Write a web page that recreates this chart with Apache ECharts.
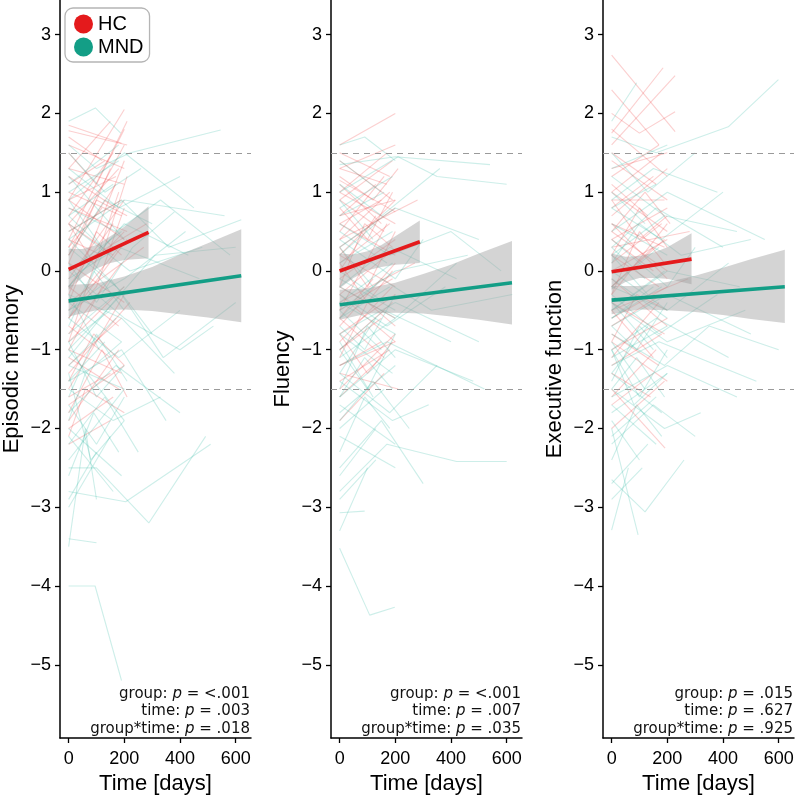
<!DOCTYPE html>
<html>
<head>
<meta charset="utf-8">
<script src="https://cdn.jsdelivr.net/npm/echarts@6/dist/echarts.min.js"></script>
<style>html,body{margin:0;padding:0;background:#fff}#c{width:795px;height:795px}</style>
</head>
<body>
<div id="c"></div>
<script>
// ---- axis ticks ----
const xTicks = [0, 200, 400, 600];
const yTicks = [-5, -4, -3, -2, -1, 0, 1, 2, 3];
const groups = ['HC', 'MND'];
const panelTitles = ['Episodic memory', 'Fluency', 'Executive function'];
const pGroup = ['<.001', '<.001', '.015'];
const pTime = ['.003', '.007', '.627'];
const pInter = ['.018', '.035', '.925'];

// ---- individual trajectories: [day, value, day, value, ...] ----
const epHC = [
[0,1.85,190,1.62],[0,1.78,210,1.60],[0,1.3,150,1.9],[0,0.9,200,2.05],[0,0.6,180,1.3],
[0,0.2,170,1.1],[0,-0.1,200,0.9],[0,0.4,120,0.2,210,1.2],[0,1.0,190,0.7],[0,0.7,160,1.5],
[0,-0.5,180,0.3],[0,-0.9,200,-0.2],[0,-1.2,190,-0.6],[0,-1.6,150,-1.3],[0,-2.1,60,-1.5,200,-1.8],
[0,-1.9,180,-1.0],[0,-0.3,100,0.5,190,0.2],[0,0.1,200,-0.4],[0,1.5,100,1.1,200,1.8],[0,1.2,170,0.8],
[0,-0.7,150,-1.1],[0,-1.4,90,-0.8,200,-1.2],[0,0.3,200,1.6],[0,-0.2,160,0.6],[0,0.8,210,0.5],
[0,-1.0,120,-0.2],[0,0.5,190,0.9],[0,-0.6,210,0.4],[0,1.1,130,1.4],[0,-1.7,200,-1.2],
[0,0.0,280,0.6],[0,-0.4,270,0.3],[0,0.9,170,1.2],[0,-1.1,180,-1.5],[0,0.2,100,0.9,210,0.7],
[0,-2.0,160,-1.6],[0,1.6,200,1.3],[0,-0.8,190,0.1],[0,0.6,90,0.1,200,0.5],[0,-1.3,220,-0.4],
[0,-0.9,180,1.0],[0,-0.4,200,1.4],[0,0.1,150,1.3],[0,-1.5,200,-0.3],[0,-1.8,120,-1.0,210,-1.6],
[0,0.4,210,1.9],[0,1.7,120,1.4],[0,-0.6,100,-0.2,200,0.8],[0,0.9,200,0.4],[0,-2.2,150,-1.9],
[0,-1.0,190,-1.3],[0,0.6,160,0.2],[0,1.3,200,1.1],[0,-0.2,180,-0.7],[0,0.3,120,0.8]
];
const epMND = [
[0,-4.0,95,-4.0,190,-5.2],[0,-3.4,100,-3.45],[0,-3.5,60,-2.0,100,-2.9],[0,-2.5,100,-2.5,288,-3.2,492,-2.1],
[0,-2.8,205,-2.93,510,-2.2],[0,-2.6,90,-1.8,180,-2.3],[0,-2.2,130,-1.6,250,-2.3],[0,1.9,96,2.07,187,1.75],
[0,1.6,100,1.3,222,1.5,546,1.79],[0,1.3,180,0.8,400,1.2],[0,0.9,200,1.5,450,0.8],[0,0.5,190,0.9,360,0.3,620,0.65],
[0,-0.2,200,0.6,430,0.2],[0,-0.6,180,-1.1,400,-0.5],[0,-1.0,190,-0.3,340,-1.1,600,-0.4],[0,-1.5,160,-1.9,330,-1.6],
[0,-1.8,170,-1.2,400,-1.8],[0,0.1,100,-0.4,230,0.3,380,0.75],[0,-0.4,190,-0.9],[0,-0.9,150,-0.5],
[0,0.3,170,-0.2],[0,-1.2,200,-1.5],[0,0.7,160,1.1],[0,-0.7,120,0.2],[0,1.2,200,0.4],
[0,-1.6,100,-0.8,210,-1.4],[0,-0.1,180,0.3,470,-0.1],[0,-2.0,190,-2.6],[0,-1.3,80,-2.4,200,-1.9],
[0,0.0,200,-0.6,400,-1.0,520,-0.7],[0,1.0,180,1.4],[0,-0.5,150,-0.1,300,-0.8],[0,-1.9,60,-1.3,190,-0.9],
[0,-0.3,110,-1.0],[0,0.6,220,0.0,480,0.3],[0,-1.1,160,-0.4,310,0.2,600,0.3],[0,-2.4,200,-1.5],
[0,1.5,130,1.0,260,1.3],[0,-0.8,200,-0.2],[0,0.2,130,0.9,300,0.6],[0,-1.4,190,-1.0,350,-1.9],
[0,-3.0,150,-2.1],[0,0.4,200,-0.3],[0,-0.6,90,0.0,200,-0.5],[0,0.8,170,0.5,330,0.9,580,0.2],
[0,-1.7,100,-2.2,200,-1.6],[0,-0.2,150,0.4],[0,0.9,120,0.3],[0,-1.0,200,-1.9],[0,-2.1,160,-2.8],
[0,-0.5,200,-0.1,420,0.5],[0,1.1,180,1.6],[0,-1.4,130,-0.9],[0,0.0,190,0.5],[0,-0.9,100,-1.6,200,-1.2],
[0,-2.9,100,-2.3],[0,0.4,200,0.9,560,0.7],[0,-0.3,190,-0.6,380,-1.3],[0,-1.2,170,-0.6],[0,0.7,150,0.2]
];
const flHC = [
[0,1.6,200,2.0],[0,1.5,180,1.2],[0,1.3,200,1.6],[0,1.1,150,0.6],[0,0.9,190,1.4],
[0,0.7,200,0.9],[0,0.5,160,1.2],[0,0.3,200,0.8],[0,0.1,180,0.6],[0,-0.1,200,0.4],
[0,-0.3,170,0.2],[0,-0.5,190,-0.1],[0,-0.8,200,-0.3],[0,-1.0,150,-0.6],[0,-1.2,200,-0.9],
[0,-1.4,180,-1.0],[0,-1.1,100,-0.4,200,-0.7],[0,0.8,100,0.4,190,1.0],[0,1.2,120,0.9,210,1.3],[0,-0.6,160,-1.1],
[0,0.2,200,-0.2],[0,-0.2,90,0.6,190,0.3],[0,0.6,200,0.2],[0,1.0,170,1.5],[0,-0.9,190,-0.2],
[0,-1.6,150,-1.1],[0,0.4,280,0.9],[0,-0.4,270,0.1],[0,0.0,130,0.7],[0,-0.7,200,0.1],
[0,1.4,190,0.9],[0,0.9,160,0.5],[0,-1.3,210,-1.5],[0,0.3,100,-0.2,200,0.5],[0,-0.2,200,-0.6],
[0,0.7,130,1.1],[0,-0.8,100,-1.3,190,-0.9],[0,1.15,200,0.75],
[0,-1.5,200,-0.8],[0,-0.5,170,0.6],[0,0.4,180,1.0],[0,1.0,200,0.6],[0,-0.3,200,-0.9],
[0,-1.9,160,-1.3],[0,0.1,100,-0.4,190,0.0],[0,0.6,150,0.9],[0,-1.0,190,-0.4],[0,1.3,170,1.1],
[0,-0.6,120,-0.1],[0,0.2,200,0.9],[0,-1.2,150,-0.9]
];
const flMND = [
[0,-3.52,108,-4.37,198,-4.27],[0,-3.07,90,-3.05],[0,-3.3,100,-2.5],[0,-2.8,170,-2.2,420,-2.42,600,-2.42],
[0,-2.5,150,-1.9,300,-2.7],[0,-2.1,200,-2.5],[0,-1.9,120,-1.4,250,-2.0],[0,-1.6,200,-1.0,480,-1.4],
[0,-1.3,180,-1.8,350,-1.2],[0,-1.0,160,-0.5,400,-0.9],[0,-0.8,190,-1.3],[0,-0.6,150,-0.1,330,-0.5,620,-0.3],
[0,-0.4,200,-0.8],[0,-0.2,180,0.3,420,-0.1],[0,0.0,160,-0.4],[0,0.3,200,0.8,500,0.4],
[0,0.5,170,0.1],[0,0.8,190,1.2],[0,1.1,150,0.7,360,1.3],[0,1.35,200,1.45,540,1.35],
[0,1.6,90,1.7,200,1.4],[0,1.0,210,1.45,350,1.2,600,1.1],[0,-1.5,100,-0.7,200,-1.1],[0,-0.9,120,-1.6],
[0,-0.3,170,-0.7,380,-0.2],[0,0.2,130,0.6],[0,-1.8,200,-1.2],[0,-2.3,90,-1.6,180,-2.0],
[0,-0.5,200,0.0,460,0.2],[0,0.6,180,0.2,400,0.5,580,0.0],[0,-1.1,200,-0.6],[0,-0.7,90,-1.0,200,-0.3],
[0,0.9,120,0.4],[0,-1.4,190,-1.9,320,-1.7],[0,-0.1,200,-0.5],[0,-2.6,130,-2.0],
[0,0.4,200,-0.1,300,0.4],[0,-1.2,170,-0.9,520,-1.5],[0,1.4,150,1.0],[0,-0.6,180,-0.2],
[0,-1.7,200,-2.2],[0,-0.5,150,-1.0],[0,0.1,190,0.5],[0,-1.0,100,-1.5,200,-0.8],[0,-2.0,160,-1.5],
[0,-0.2,200,-0.6,420,0.1],[0,0.7,160,1.0],[0,-1.3,130,-0.6],[0,-0.8,200,-0.4,500,-0.9],[0,-2.9,130,-2.4],
[0,0.3,120,-0.2],[0,-0.4,190,0.1],[0,-1.6,90,-1.1,190,-1.5]
];
const exHC = [
[0,2.74,228,1.77],[0,1.75,185,2.58],[0,1.6,228,2.48],[0,2.0,100,1.75,228,2.02],[0,1.4,200,0.9],
[0,1.2,170,1.6],[0,1.0,200,0.5],[0,0.8,150,1.2],[0,0.6,190,0.3],[0,0.4,200,0.8],
[0,0.2,170,-0.2],[0,0.0,200,0.4],[0,-0.2,150,0.3],[0,-0.4,190,-0.8],[0,-0.6,200,-0.2],
[0,-0.8,170,-1.2],[0,-1.0,200,-0.6],[0,-1.2,180,-0.8],[0,-1.5,192,-2.25],[0,-1.7,150,-1.3],
[0,0.9,100,0.4,200,0.7],[0,-0.3,100,0.5,190,0.1],[0,0.5,120,1.0,210,0.6],[0,-0.9,90,-0.3,200,-0.5],[0,1.5,160,1.1],
[0,0.3,280,0.5],[0,-0.5,275,-0.1],[0,0.7,200,1.3],[0,-1.3,140,-1.6],[0,0.1,180,0.6],
[0,-0.1,200,-0.7],[0,1.1,130,0.7],[0,-0.7,180,-0.3],[0,0.5,200,0.0],[0,-2.0,190,-1.4],[0,1.3,200,1.5],
[0,2.3,170,1.6],[0,-0.3,200,0.6],[0,1.0,180,1.5],[0,-1.1,170,-0.4],[0,0.6,200,-0.1],
[0,-0.5,150,-1.1],[0,1.8,200,1.2],[0,-1.6,160,-1.0],[0,0.2,100,0.8,200,0.3],[0,0.9,190,0.9],
[0,-0.9,200,-1.4],[0,0.4,150,0.0],[0,-0.2,190,0.4]
];
const exMND = [
[0,-3.29,60,-2.5],[0,-2.0,95,-3.35],[0,-2.65,120,-3.06,260,-2.4],[0,-2.2,150,-1.7,300,-2.1],
[0,-1.9,100,-2.4],[0,-1.6,200,-1.2,450,-1.6],[0,-1.3,180,-1.8],[0,-1.0,160,-0.6,420,-1.1],
[0,-0.8,190,-1.2,350,-0.7,600,-1.0],[0,-0.6,150,-0.2],[0,-0.4,200,-0.9,480,-0.5],[0,-0.2,170,0.3],
[0,0.0,200,-0.5],[0,0.3,160,0.8,400,0.3],[0,0.6,200,0.2],[0,0.9,150,1.3,380,1.0],
[0,1.2,190,0.7,450,0.5],[0,1.5,130,1.0,300,1.5],[0,1.9,90,2.39],[0,1.7,160,1.5,419,1.83,599,2.43],
[0,0.5,200,1.0,550,0.4],[0,-1.4,100,-0.7,200,-1.1],[0,-0.9,120,-1.5],[0,-0.3,170,-0.8,380,-0.3],
[0,0.2,130,-0.3],[0,-1.8,200,-1.3],[0,-2.4,90,-1.7,180,-2.1],[0,-0.5,200,0.0,460,-0.2],
[0,0.8,180,0.4,400,1.0],[0,-1.1,200,-0.7],[0,-0.7,90,-1.0,200,-0.4],[0,1.0,120,0.6],
[0,-1.5,190,-2.0,320,-1.8],[0,-0.1,200,-0.6],[0,-2.7,130,-2.2],[0,0.4,200,-0.2,300,0.3],
[0,-1.2,170,-0.9,520,-1.4],[0,-0.6,180,-0.2],[0,0.1,100,0.6,250,0.2,500,0.4],[0,-1.0,80,-1.7,200,-1.3],
[0,-1.7,160,-2.2],[0,-0.4,150,-1.0],[0,0.2,190,0.7],[0,-1.0,100,-1.6,200,-1.0],[0,-2.1,160,-1.6],
[0,-0.2,200,-0.5,420,0.1],[0,0.8,160,1.1],[0,-1.3,130,-0.7],[0,-0.7,200,-0.3,500,-0.8],[0,-2.9,110,-2.5],
[0,0.3,120,-0.1],[0,-0.5,190,0.0],[0,-1.5,90,-1.1,190,-1.6],[0,1.3,200,1.6]
];

// ---- fitted group lines [day, value] ----
const fitHC = [[[0,0.02],[287,0.49]], [[0,0.0],[288,0.37]], [[0,-0.01],[287,0.15]]];
const fitMND = [[[0,-0.38],[620,-0.06]], [[0,-0.43],[619,-0.15]], [[0,-0.37],[622,-0.2]]];

// ---- confidence bands ----
const bandDaysHC = [[0,50,100,150,200,287],[0,50,100,150,200,288],[0,50,100,150,200,287]];
const bandLoHC = [[-0.24,-0.08,0.03,0.10,0.14,0.16],[-0.22,-0.09,0.01,0.05,0.08,0.10],[-0.24,-0.14,-0.09,-0.09,-0.10,-0.17]];
const bandHiHC = [[0.28,0.28,0.33,0.44,0.56,0.82],[0.22,0.21,0.25,0.33,0.44,0.64],[0.22,0.18,0.19,0.23,0.30,0.48]];
const bandDaysMND = [[0,100,200,300,400,500,620],[0,100,200,300,400,500,619],[0,100,200,300,400,500,622]];
const bandLoMND = [[-0.58,-0.50,-0.49,-0.51,-0.55,-0.59,-0.65],[-0.62,-0.54,-0.53,-0.54,-0.58,-0.62,-0.68],[-0.55,-0.49,-0.50,-0.52,-0.56,-0.61,-0.66]];
const bandHiMND = [[-0.18,-0.16,-0.07,0.05,0.21,0.35,0.53],[-0.24,-0.22,-0.15,-0.04,0.08,0.22,0.38],[-0.19,-0.19,-0.14,-0.06,0.04,0.15,0.27]];

const cutoffs = [1.5, -1.5];

const RED = '#E41A1C', TEAL = '#139E86';
const RED_T = 'rgba(238,70,70,0.26)', TEAL_T = 'rgba(45,185,165,0.24)';
const FONT = 'Liberation Sans, Arial, Helvetica, sans-serif';
const trajs = [[epHC, epMND], [flHC, flMND], [exHC, exMND]];
const gridLeft = [60, 331, 603], gridW = 191;

const grids = [], xAxes = [], yAxes = [], series = [], graphics = [];
const minus = v => String(v).replace('-', '\u2212');

for (let i = 0; i < 3; i++) {
  grids.push({left: gridLeft[i], width: gridW, top: 0, height: 738, containLabel: false, outerBoundsMode: 'none'});
  xAxes.push({
    type: 'value', gridIndex: i, min: -31, max: 655,
    name: 'Time [days]', nameLocation: 'middle', nameGap: 33,
    nameTextStyle: {fontSize: 22, fontFamily: FONT, color: '#000'},
    axisLine: {show: true, onZero: false, lineStyle: {color: '#000', width: 1.5}},
    axisTick: {show: true, length: 5, lineStyle: {color: '#000', width: 1.3}, customValues: xTicks},
    axisLabel: {customValues: xTicks, fontSize: 18, fontFamily: FONT, color: '#000', margin: 12},
    splitLine: {show: false}
  });
  yAxes.push({
    type: 'value', gridIndex: i, min: -5.93, max: 3.44,
    name: panelTitles[i], nameLocation: 'middle', nameGap: 37,
    nameTextStyle: {fontSize: 22, fontFamily: FONT, color: '#000'},
    axisLine: {show: true, onZero: false, lineStyle: {color: '#000', width: 1.5}},
    axisTick: {show: true, length: 5, lineStyle: {color: '#000', width: 1.3}, customValues: yTicks},
    axisLabel: {customValues: yTicks, fontSize: 18, fontFamily: FONT, color: '#000', margin: 9, formatter: minus},
    splitLine: {show: false}
  });

  // individual trajectories
  [0, 1].forEach(g => {
    trajs[i][g].forEach(t => {
      const pts = [];
      for (let j = 0; j < t.length; j += 2) pts.push([t[j], t[j + 1]]);
      series.push({
        type: 'line', name: groups[g] + ' subject', xAxisIndex: i, yAxisIndex: i,
        data: pts, symbol: 'none', silent: true, z: 1, animation: false,
        lineStyle: {color: g === 0 ? RED_T : TEAL_T, width: 1.1}
      });
    });
  });

  // confidence bands
  const bands = [
    [bandDaysHC[i], bandLoHC[i], bandHiHC[i]],
    [bandDaysMND[i], bandLoMND[i], bandHiMND[i]]
  ];
  bands.forEach(b => {
    series.push({
      type: 'custom', xAxisIndex: i, yAxisIndex: i, silent: true, z: 2, animation: false,
      data: [[b[0][0], b[1][0]]],
      renderItem: (params, api) => {
        const up = b[0].map((d, k) => api.coord([d, b[2][k]]));
        const lo = b[0].map((d, k) => api.coord([d, b[1][k]])).reverse();
        return {type: 'polygon', shape: {points: up.concat(lo)}, style: {fill: 'rgba(160,160,160,0.45)'}};
      }
    });
  });

  // fitted lines
  series.push({
    type: 'line', name: 'HC', xAxisIndex: i, yAxisIndex: i, data: fitHC[i], symbol: 'none',
    z: 3, animation: false, silent: true, lineStyle: {color: RED, width: 3.6}, itemStyle: {color: RED},
    markLine: {
      silent: true, symbol: 'none', animation: false, label: {show: false},
      lineStyle: {color: '#9a9a9a', type: [6, 5], width: 1.2},
      data: cutoffs.map(v => ({yAxis: v}))
    }
  });
  series.push({
    type: 'line', name: 'MND', xAxisIndex: i, yAxisIndex: i, data: fitMND[i], symbol: 'none',
    z: 3, animation: false, silent: true, lineStyle: {color: TEAL, width: 3.6}, itemStyle: {color: TEAL}
  });

  // p-value annotations
  const rightX = gridLeft[i] + gridW - 1;
  const lines = [['group', pGroup[i]], ['time', pTime[i]], ['group*time', pInter[i]]];
  lines.forEach((l, k) => {
    graphics.push({
      type: 'text', x: rightX, y: 694 + k * 17.5, silent: true, z: 10,
      style: {
        text: '{n|' + l[0] + ': }{i|p}{n| = ' + l[1] + '}',
        font: '15px "DejaVu Sans"',
        align: 'right', verticalAlign: 'middle', fill: '#111',
        rich: {
          n: {font: '15px "DejaVu Sans"', fill: '#111'},
          i: {font: 'italic 15px "DejaVu Sans"', fill: '#111'}
        }
      }
    });
  });
}

const chart = echarts.init(document.getElementById('c'), null, {renderer: 'canvas'});
chart.setOption({
  animation: false,
  backgroundColor: '#fff',
  grid: grids, xAxis: xAxes, yAxis: yAxes, series: series,
  legend: {
    data: [{name: 'HC', itemStyle: {color: RED}}, {name: 'MND', itemStyle: {color: TEAL}}],
    orient: 'vertical', left: 65, top: 8, icon: 'circle', itemWidth: 19, itemHeight: 19, itemGap: 3,
    padding: [6, 6, 5, 9], borderColor: '#b5b5b5', borderWidth: 1.3, borderRadius: 8,
    backgroundColor: '#fff', selectedMode: false,
    textStyle: {fontSize: 20, fontFamily: FONT, color: '#000'}
  },
  graphic: graphics
});
</script>
</body>
</html>
